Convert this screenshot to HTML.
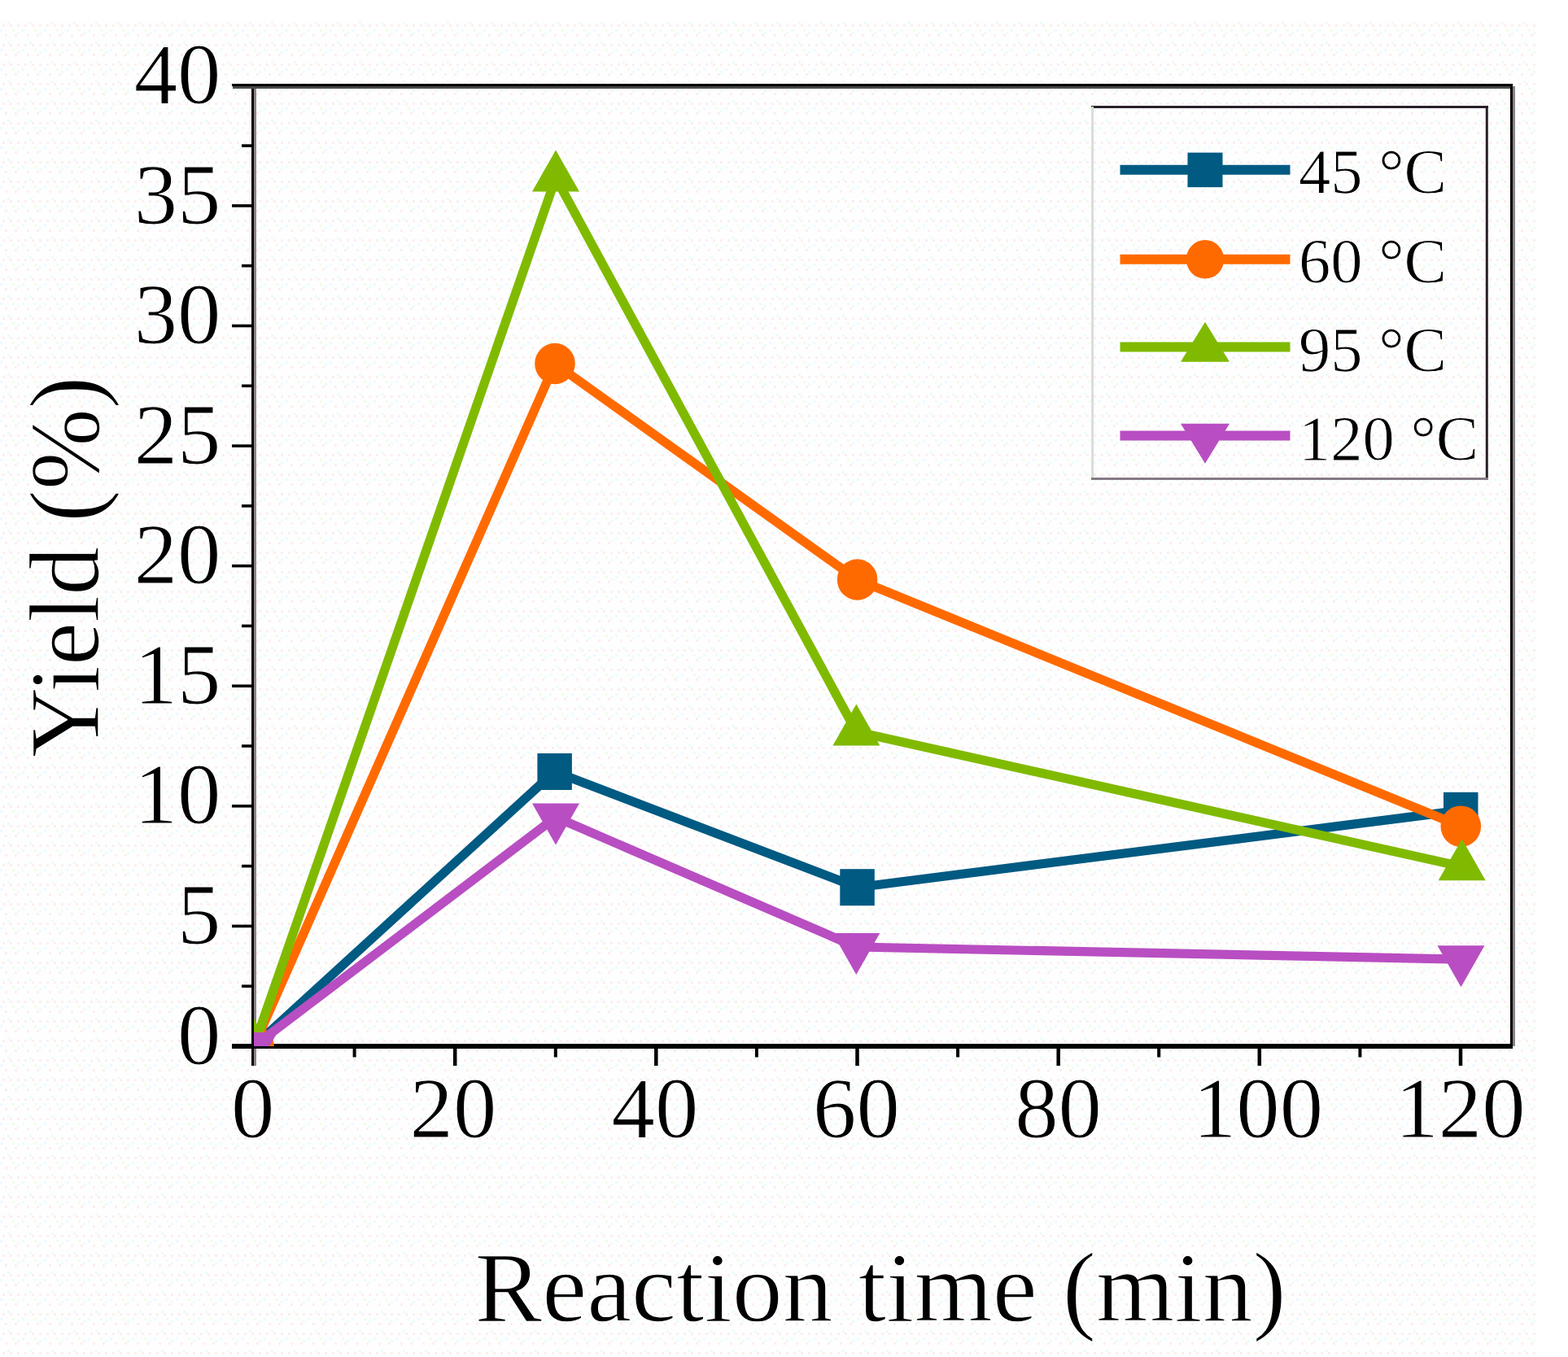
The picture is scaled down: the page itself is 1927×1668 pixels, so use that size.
<!DOCTYPE html>
<html lang="en"><head><meta charset="utf-8"><title>Yield vs reaction time</title>
<style>
html,body{margin:0;padding:0;background:#fff;}
body{width:1927px;height:1668px;overflow:hidden;}
svg{display:block;}
text{font-family:"Liberation Serif", "DejaVu Serif", serif;fill:#000;stroke:#fff;stroke-linejoin:round;}
.tick{font-size:105.5px;stroke-width:1px;}
.leg{font-size:78.5px;stroke-width:0.9px;}
.ttl{font-size:122.5px;stroke-width:1.4px;}
</style></head><body>
<svg width="1927" height="1668" viewBox="0 0 1927 1668">
<rect x="0" y="0" width="1927" height="1668" fill="#ffffff"/>
<defs><pattern id="dz" x="0" y="24" width="27" height="24" patternUnits="userSpaceOnUse"><rect x="3" y="6" width="3" height="3" fill="#fdeeee"/><rect x="12" y="6" width="3" height="3" fill="#fdeeee"/><rect x="21" y="6" width="3" height="3" fill="#fdeeee"/><rect x="6" y="18" width="3" height="3" fill="#fdeeee"/><rect x="18" y="18" width="3" height="3" fill="#fdeeee"/><rect x="9" y="3" width="3" height="3" fill="#eafcfd"/><rect x="21" y="15" width="3" height="3" fill="#eafcfd"/><rect x="0" y="12" width="3" height="3" fill="#eafcfd"/><rect x="15" y="12" width="3" height="3" fill="#f3fce8"/></pattern></defs>
<rect x="0" y="24" width="1889" height="1644" fill="#fefefe"/>
<rect x="0" y="24" width="1889" height="1644" fill="url(#dz)" shape-rendering="crispEdges"/>
<defs><clipPath id="plot"><rect x="312.1" y="106" width="1544" height="1180"/></clipPath></defs>
<g shape-rendering="crispEdges">
<rect x="309.2" y="103" width="2.9" height="1207" fill="#000"/>
<rect x="312.1" y="108.5" width="2.9" height="1201.5" fill="#8c8289"/>
<rect x="1856" y="103" width="3" height="1185.8" fill="#000"/>
<rect x="1859" y="106" width="2.9" height="1179.7" fill="#8c8289"/>
<rect x="285" y="103" width="1574" height="2.9" fill="#000"/>
<rect x="286" y="105.9" width="1570" height="2.9" fill="#484848"/>
<rect x="285" y="1282.9" width="1574" height="5.9" fill="#000"/>
</g>
<g stroke="#000" fill="none">
<line x1="285" y1="1138.4" x2="310" y2="1138.4" stroke-width="3.6"/>
<line x1="285" y1="990.8" x2="310" y2="990.8" stroke-width="3.6"/>
<line x1="285" y1="843.2" x2="310" y2="843.2" stroke-width="3.6"/>
<line x1="285" y1="695.6" x2="310" y2="695.6" stroke-width="3.6"/>
<line x1="285" y1="548.1" x2="310" y2="548.1" stroke-width="3.6"/>
<line x1="285" y1="400.5" x2="310" y2="400.5" stroke-width="3.6"/>
<line x1="285" y1="252.9" x2="310" y2="252.9" stroke-width="3.6"/>
<line x1="297" y1="1212.2" x2="310" y2="1212.2" stroke-width="3.6"/>
<line x1="297" y1="1064.6" x2="310" y2="1064.6" stroke-width="3.6"/>
<line x1="297" y1="917.0" x2="310" y2="917.0" stroke-width="3.6"/>
<line x1="297" y1="769.4" x2="310" y2="769.4" stroke-width="3.6"/>
<line x1="297" y1="621.9" x2="310" y2="621.9" stroke-width="3.6"/>
<line x1="297" y1="474.3" x2="310" y2="474.3" stroke-width="3.6"/>
<line x1="297" y1="326.7" x2="310" y2="326.7" stroke-width="3.6"/>
<line x1="297" y1="179.1" x2="310" y2="179.1" stroke-width="3.6"/>
<line x1="559.2" y1="1288" x2="559.2" y2="1310" stroke-width="4.5"/>
<line x1="806.3" y1="1288" x2="806.3" y2="1310" stroke-width="4.5"/>
<line x1="1053.5" y1="1288" x2="1053.5" y2="1310" stroke-width="4.5"/>
<line x1="1300.7" y1="1288" x2="1300.7" y2="1310" stroke-width="4.5"/>
<line x1="1547.8" y1="1288" x2="1547.8" y2="1310" stroke-width="4.5"/>
<line x1="1795.0" y1="1288" x2="1795.0" y2="1310" stroke-width="4.5"/>
<line x1="435.6" y1="1288" x2="435.6" y2="1299.5" stroke-width="4"/>
<line x1="682.8" y1="1288" x2="682.8" y2="1299.5" stroke-width="4"/>
<line x1="929.9" y1="1288" x2="929.9" y2="1299.5" stroke-width="4"/>
<line x1="1177.1" y1="1288" x2="1177.1" y2="1299.5" stroke-width="4"/>
<line x1="1424.2" y1="1288" x2="1424.2" y2="1299.5" stroke-width="4"/>
<line x1="1671.4" y1="1288" x2="1671.4" y2="1299.5" stroke-width="4"/>
</g>
<g clip-path="url(#plot)">
<polyline points="312.0,1286.0 681.6,948.5 1053.6,1090.7 1795.3,996.3" fill="none" stroke="#005A82" stroke-width="11.2" stroke-linejoin="round" stroke-linecap="round"/>
<rect x="290.8" y="1263.5" width="42.5" height="45.0" fill="#005A82"/>
<rect x="660.4" y="926.0" width="42.5" height="45.0" fill="#005A82"/>
<rect x="1032.3" y="1068.2" width="42.5" height="45.0" fill="#005A82"/>
<rect x="1774.0" y="973.8" width="42.5" height="45.0" fill="#005A82"/>
<polyline points="312.0,1286.0 682.0,447.0 1053.6,712.5 1795.3,1015.6" fill="none" stroke="#FF6A00" stroke-width="11.2" stroke-linejoin="round" stroke-linecap="round"/>
<ellipse cx="312.0" cy="1286.0" rx="24.8" ry="25.2" fill="#FF6A00"/>
<ellipse cx="682.0" cy="447.0" rx="24.8" ry="25.2" fill="#FF6A00"/>
<ellipse cx="1053.6" cy="712.5" rx="24.8" ry="25.2" fill="#FF6A00"/>
<ellipse cx="1795.3" cy="1015.6" rx="24.8" ry="25.2" fill="#FF6A00"/>
<polyline points="312.0,1286.0 683.0,218.6 1052.4,899.5 1796.7,1065.2" fill="none" stroke="#80BA00" stroke-width="11.2" stroke-linejoin="round" stroke-linecap="round"/>
<polygon points="312.0,1252.0 341.0,1303.0 283.0,1303.0" fill="#80BA00"/>
<polygon points="683.0,184.6 712.0,235.6 654.0,235.6" fill="#80BA00"/>
<polygon points="1052.4,865.5 1081.4,916.5 1023.4,916.5" fill="#80BA00"/>
<polygon points="1796.7,1031.2 1825.7,1082.2 1767.7,1082.2" fill="#80BA00"/>
<polyline points="312.0,1286.0 683.0,1004.5 1052.3,1164.0 1795.5,1179.2" fill="none" stroke="#B84EC2" stroke-width="11.2" stroke-linejoin="round" stroke-linecap="round"/>
<polygon points="312.0,1320.0 341.0,1269.0 283.0,1269.0" fill="#B84EC2"/>
<polygon points="683.0,1038.5 712.0,987.5 654.0,987.5" fill="#B84EC2"/>
<polygon points="1052.3,1198.0 1081.3,1147.0 1023.3,1147.0" fill="#B84EC2"/>
<polygon points="1795.5,1213.2 1824.5,1162.2 1766.5,1162.2" fill="#B84EC2"/>
</g>
<g class="tick">
<text transform="translate(271.4 1307.6) scale(1.012 1)" text-anchor="end">0</text>
<text transform="translate(271.4 1160.0) scale(1.012 1)" text-anchor="end">5</text>
<text transform="translate(271.4 1012.4) scale(1.012 1)" text-anchor="end">10</text>
<text transform="translate(271.4 864.8) scale(1.012 1)" text-anchor="end">15</text>
<text transform="translate(271.4 717.2) scale(1.012 1)" text-anchor="end">20</text>
<text transform="translate(271.4 569.7) scale(1.012 1)" text-anchor="end">25</text>
<text transform="translate(271.4 422.1) scale(1.012 1)" text-anchor="end">30</text>
<text transform="translate(271.4 274.5) scale(1.012 1)" text-anchor="end">35</text>
<text transform="translate(271.4 126.9) scale(1.012 1)" text-anchor="end">40</text>
<text transform="translate(310.6 1397.6) scale(1.012 1)" text-anchor="middle">0</text>
<text transform="translate(556.9 1397.6) scale(1.012 1)" text-anchor="middle">20</text>
<text transform="translate(805.0 1397.6) scale(1.012 1)" text-anchor="middle">40</text>
<text transform="translate(1052.5 1397.6) scale(1.012 1)" text-anchor="middle">60</text>
<text transform="translate(1300.6 1397.6) scale(1.012 1)" text-anchor="middle">80</text>
<text transform="translate(1546.0 1397.6) scale(1.012 1)" text-anchor="middle">100</text>
<text transform="translate(1794.5 1397.6) scale(1.012 1)" text-anchor="middle">120</text>
</g>
<text class="ttl" id="xt" transform="translate(1082.2 1624) scale(1.011 1)" text-anchor="middle">Reaction time (min)</text>
<text class="ttl" id="yt" transform="translate(121.4 696.8) rotate(-90) scale(0.977 1)" text-anchor="middle">Yield (%)</text>
<g>
<rect x="1342" y="131" width="486" height="457" fill="none" stroke="none"/>
<line x1="1341" y1="131.5" x2="1829" y2="131.5" stroke="#2a1f2a" stroke-width="3"/>
<line x1="1827.3" y1="131" x2="1827.3" y2="589.9" stroke="#2a1f28" stroke-width="3"/>
<line x1="1341" y1="588.4" x2="1829" y2="588.4" stroke="#857a85" stroke-width="3"/>
<line x1="1342.6" y1="131" x2="1342.6" y2="587" stroke="#d6dcdc" stroke-width="2.8"/>
<line x1="1376.5" y1="208.8" x2="1585.5" y2="208.8" stroke="#005A82" stroke-width="12"/>
<rect x="1459.5" y="187.6" width="43.0" height="42.5" fill="#005A82"/>
<text class="leg" x="1596" y="237.2">45 °C</text>
<line x1="1376.5" y1="318.8" x2="1585.5" y2="318.8" stroke="#FF6A00" stroke-width="12"/>
<ellipse cx="1481.0" cy="318.8" rx="23.2" ry="23.8" fill="#FF6A00"/>
<text class="leg" x="1596" y="346.6">60 °C</text>
<line x1="1376.5" y1="426.5" x2="1585.5" y2="426.5" stroke="#80BA00" stroke-width="12"/>
<polygon points="1481.0,395.8 1511.0,444.8 1451.0,444.8" fill="#80BA00"/>
<text class="leg" x="1596" y="455.6">95 °C</text>
<line x1="1376.5" y1="535.5" x2="1585.5" y2="535.5" stroke="#B84EC2" stroke-width="12"/>
<polygon points="1481.0,569.7 1511.0,520.7 1451.0,520.7" fill="#B84EC2"/>
<text class="leg" x="1596" y="564.8">120 °C</text>
</g>
</svg>
</body></html>
